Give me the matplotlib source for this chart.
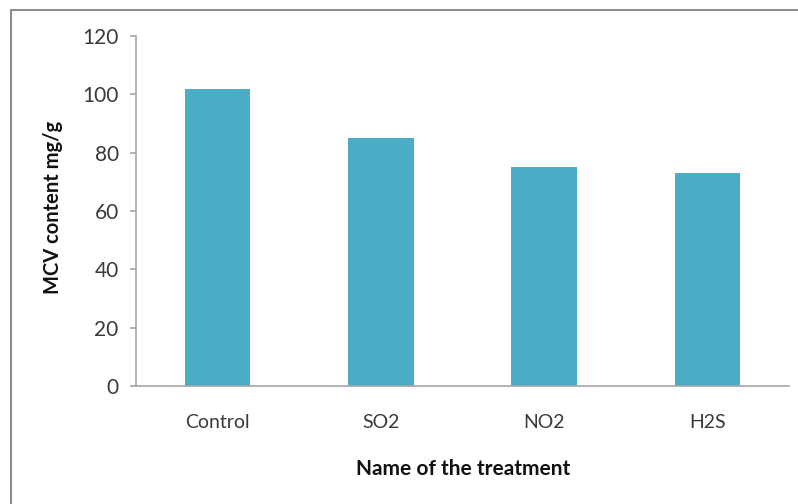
import matplotlib.pyplot as plt
from matplotlib.patches import Rectangle

treatments = ["Control", "SO2", "NO2", "H2S"]
mcv_content = [102, 85, 75, 73]
y_ticks = [0, 20, 40, 60, 80, 100, 120]

plt.rcParams['font.family'] = ['Lato', 'DejaVu Sans']

W, H = 798, 504
fig = plt.figure(figsize=(W / 100, H / 100), dpi=100)
ax = fig.add_axes([136 / W, 1 - 386 / H, (789 - 136) / W, 350 / H])

ax.bar(range(len(treatments)), mcv_content, width=0.4, color='#4BACC6')

ax.set_xlim(-0.5, len(treatments) - 0.5)
ax.set_ylim(0, 120)
ax.set_yticks(y_ticks)
ax.set_xticks(range(len(treatments)))
ax.set_xticklabels(treatments)

for side in ['top', 'right']:
    ax.spines[side].set_visible(False)
for side in ['left', 'bottom']:
    ax.spines[side].set_color('#a6a6a6')
    ax.spines[side].set_linewidth(1.2)

ax.tick_params(axis='y', colors='#a6a6a6', labelcolor='#3a3a3a', labelsize=15,
               length=4.5, width=1.2, pad=8)
ax.tick_params(axis='x', length=0, labelcolor='#3a3a3a', labelsize=14, pad=20)

# axis titles placed in figure pixels
fig.text(53 / W, 1 - 207 / H, "MCV content mg/g", rotation=90, ha='center', va='center',
         fontsize=14.5, fontweight='bold', color='#111111')
fig.text(463 / W, 1 - 469 / H, "Name of the treatment", ha='center', va='center',
         fontsize=15, fontweight='bold', color='#111111')

# outer chart frame
fig.patches.append(Rectangle((11 / W, -0.02), 1.0, 1 - 10 / H + 0.02,
                             transform=fig.transFigure, fill=False,
                             edgecolor='#8c8c8c', linewidth=1.5))

fig.savefig("out.png", dpi=100)
